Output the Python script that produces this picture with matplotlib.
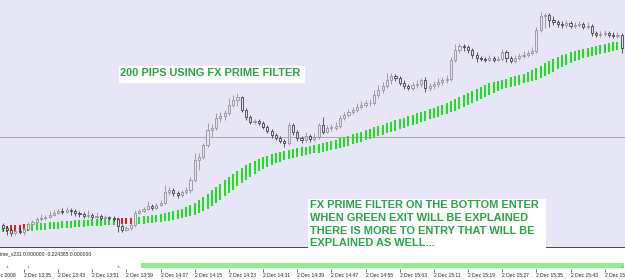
import matplotlib.pyplot as plt
from matplotlib.patches import Rectangle
import numpy as np

#---------------------------------data (1 min bars, 2 Dec 13:30 onwards)---------------------------------
first_open = 1.4625
closes = [1.4622, 1.4620, 1.4617, 1.4619, 1.4618, 1.4621, 1.4626, 1.4628, 1.4631, 1.4632,
          1.4633, 1.4635, 1.4637, 1.4639, 1.4638, 1.4640, 1.4639, 1.4637, 1.4636, 1.4634,
          1.4635, 1.4633, 1.4634, 1.4632, 1.4633, 1.4632, 1.4631, 1.4624, 1.4620, 1.4622,
          1.4625, 1.4637, 1.4639, 1.4641, 1.4644, 1.4642, 1.4645, 1.4647, 1.4658, 1.4660,
          1.4657, 1.4655, 1.4658, 1.4660, 1.4670, 1.4690, 1.4693, 1.4705, 1.4720, 1.4722,
          1.4732, 1.4734, 1.4737, 1.4745, 1.4750, 1.4753, 1.4740, 1.4733, 1.4728, 1.4729,
          1.4727, 1.4723, 1.4719, 1.4715, 1.4712, 1.4709, 1.4707, 1.4725, 1.4718, 1.4712,
          1.4710, 1.4714, 1.4711, 1.4713, 1.4725, 1.4718, 1.4722, 1.4722, 1.4724, 1.4732,
          1.4735, 1.4738, 1.4740, 1.4743, 1.4745, 1.4747, 1.4747, 1.4755, 1.4760, 1.4764,
          1.4770, 1.4774, 1.4772, 1.4767, 1.4764, 1.4762, 1.4765, 1.4766, 1.4770, 1.4762,
          1.4764, 1.4766, 1.4768, 1.4770, 1.4771, 1.4790, 1.4800, 1.4804, 1.4803, 1.4800,
          1.4795, 1.4792, 1.4791, 1.4790, 1.4792, 1.4790, 1.4791, 1.4798, 1.4792, 1.4789,
          1.4792, 1.4794, 1.4795, 1.4797, 1.4799, 1.4820, 1.4834, 1.4835, 1.4830, 1.4828,
          1.4826, 1.4825, 1.4827, 1.4824, 1.4825, 1.4826, 1.4823, 1.4824, 1.4817, 1.4815,
          1.4816, 1.4817, 1.4815, 1.4814, 1.4815, 1.4802]
highs = [1.4627, 1.4624, 1.4622, 1.4621, 1.4623, 1.4623, 1.4628, 1.4630, 1.4633, 1.4636,
         1.4635, 1.4639, 1.4640, 1.4641, 1.4642, 1.4643, 1.4642, 1.4641, 1.4639, 1.4638,
         1.4640, 1.4637, 1.4638, 1.4636, 1.4635, 1.4634, 1.4634, 1.4632, 1.4626, 1.4624,
         1.4627, 1.4640, 1.4641, 1.4643, 1.4649, 1.4646, 1.4647, 1.4650, 1.4665, 1.4663,
         1.4662, 1.4659, 1.4660, 1.4663, 1.4673, 1.4697, 1.4697, 1.4707, 1.4727, 1.4726,
         1.4737, 1.4738, 1.4740, 1.4752, 1.4755, 1.4757, 1.4754, 1.4742, 1.4735, 1.4731,
         1.4731, 1.4729, 1.4725, 1.4721, 1.4717, 1.4714, 1.4711, 1.4728, 1.4727, 1.4720,
         1.4714, 1.4718, 1.4716, 1.4717, 1.4727, 1.4733, 1.4725, 1.4726, 1.4728, 1.4735,
         1.4738, 1.4741, 1.4743, 1.4747, 1.4749, 1.4750, 1.4751, 1.4760, 1.4765, 1.4768,
         1.4777, 1.4777, 1.4776, 1.4774, 1.4770, 1.4766, 1.4768, 1.4770, 1.4772, 1.4773,
         1.4767, 1.4769, 1.4772, 1.4773, 1.4775, 1.4793, 1.4806, 1.4807, 1.4806, 1.4805,
         1.4802, 1.4798, 1.4794, 1.4793, 1.4795, 1.4794, 1.4794, 1.4801, 1.4800, 1.4794,
         1.4795, 1.4797, 1.4799, 1.4800, 1.4803, 1.4823, 1.4838, 1.4837, 1.4837, 1.4834,
         1.4830, 1.4829, 1.4830, 1.4829, 1.4828, 1.4829, 1.4828, 1.4828, 1.4826, 1.4819,
         1.4819, 1.4820, 1.4819, 1.4818, 1.4818, 1.4817]
lows = [1.4619, 1.4615, 1.4614, 1.4615, 1.4616, 1.4615, 1.4620, 1.4624, 1.4627, 1.4629,
        1.4630, 1.4632, 1.4634, 1.4636, 1.4636, 1.4637, 1.4635, 1.4634, 1.4633, 1.4632,
        1.4632, 1.4631, 1.4630, 1.4630, 1.4629, 1.4630, 1.4629, 1.4618, 1.4618, 1.4619,
        1.4620, 1.4623, 1.4636, 1.4638, 1.4640, 1.4640, 1.4641, 1.4644, 1.4646, 1.4655,
        1.4654, 1.4652, 1.4653, 1.4656, 1.4657, 1.4668, 1.4680, 1.4691, 1.4703, 1.4713,
        1.4720, 1.4728, 1.4730, 1.4735, 1.4743, 1.4744, 1.4738, 1.4730, 1.4726, 1.4726,
        1.4725, 1.4721, 1.4717, 1.4712, 1.4710, 1.4707, 1.4703, 1.4705, 1.4715, 1.4709,
        1.4707, 1.4708, 1.4708, 1.4709, 1.4711, 1.4716, 1.4717, 1.4719, 1.4720, 1.4722,
        1.4730, 1.4733, 1.4736, 1.4738, 1.4741, 1.4743, 1.4744, 1.4745, 1.4752, 1.4757,
        1.4762, 1.4766, 1.4769, 1.4765, 1.4761, 1.4760, 1.4760, 1.4762, 1.4763, 1.4758,
        1.4759, 1.4761, 1.4763, 1.4765, 1.4767, 1.4769, 1.4788, 1.4797, 1.4799, 1.4797,
        1.4792, 1.4788, 1.4789, 1.4788, 1.4789, 1.4788, 1.4789, 1.4789, 1.4788, 1.4787,
        1.4787, 1.4790, 1.4792, 1.4793, 1.4795, 1.4797, 1.4818, 1.4822, 1.4823, 1.4825,
        1.4823, 1.4822, 1.4822, 1.4822, 1.4822, 1.4823, 1.4821, 1.4821, 1.4814, 1.4813,
        1.4813, 1.4814, 1.4813, 1.4812, 1.4812, 1.4797]

# FX prime filter line drawn under price
filter_line = [1.4623, 1.4623, 1.4624, 1.4624, 1.4624, 1.4625, 1.4625, 1.4625, 1.4626, 1.4626,
               1.4626, 1.4627, 1.4627, 1.4627, 1.4628, 1.4628, 1.4628, 1.4629, 1.4629, 1.4629,
               1.4629, 1.4630, 1.4630, 1.4630, 1.4630, 1.4631, 1.4631, 1.4631, 1.4631, 1.4631,
               1.4631, 1.4632, 1.4632, 1.4633, 1.4633, 1.4634, 1.4634, 1.4635, 1.4636, 1.4637,
               1.4638, 1.4639, 1.4640, 1.4642, 1.4644, 1.4646, 1.4649, 1.4652, 1.4655, 1.4659,
               1.4662, 1.4665, 1.4669, 1.4672, 1.4675, 1.4678, 1.4681, 1.4684, 1.4686, 1.4688,
               1.4690, 1.4692, 1.4693, 1.4695, 1.4696, 1.4697, 1.4698, 1.4699, 1.4700, 1.4701,
               1.4702, 1.4702, 1.4703, 1.4704, 1.4705, 1.4706, 1.4707, 1.4708, 1.4709, 1.4711,
               1.4712, 1.4713, 1.4715, 1.4716, 1.4717, 1.4719, 1.4720, 1.4722, 1.4723, 1.4724,
               1.4726, 1.4727, 1.4729, 1.4730, 1.4731, 1.4733, 1.4734, 1.4736, 1.4737, 1.4738,
               1.4740, 1.4741, 1.4743, 1.4744, 1.4746, 1.4748, 1.4750, 1.4752, 1.4754, 1.4756,
               1.4758, 1.4760, 1.4762, 1.4764, 1.4766, 1.4767, 1.4768, 1.4769, 1.4770, 1.4772,
               1.4773, 1.4774, 1.4775, 1.4777, 1.4779, 1.4781, 1.4783, 1.4786, 1.4788, 1.4790,
               1.4792, 1.4794, 1.4795, 1.4797, 1.4798, 1.4799, 1.4800, 1.4801, 1.4802, 1.4803,
               1.4804, 1.4805, 1.4806, 1.4807, 1.4807, 1.4808]
red_bars = [1, 2, 3, 4, 5, 6, 27, 28, 29, 30]
level_line = 1.4713

# lower window (FX_Prime_v231)
sub_hist = [0.0] * 33 + [1.0] * 113
sub_marks = [1, 6, 27, 145]
sub_label = 'ime_v231 0.000000 -0.224365 0.000000'

tick_bars = [5, 13, 21, 29, 37, 45, 53, 61, 69, 77, 85, 93, 101, 109, 117, 125, 133, 141]
tick_labels = ['2 Dec 13:35', '2 Dec 13:43', '2 Dec 13:51', '2 Dec 13:59', '2 Dec 14:07',
               '2 Dec 14:15', '2 Dec 14:23', '2 Dec 14:31', '2 Dec 14:39', '2 Dec 14:47',
               '2 Dec 14:55', '2 Dec 15:03', '2 Dec 15:11', '2 Dec 15:19', '2 Dec 15:27',
               '2 Dec 15:35', '2 Dec 15:43', '2 Dec 15:51']
first_label = '2 Dec 2008'

title_text = '200 PIPS USING FX PRIME FILTER'
note_lines = ['FX PRIME FILTER ON THE BOTTOM ENTER',
              'WHEN GREEN EXIT WILL BE EXPLAINED',
              'THERE IS MORE TO ENTRY THAT WILL BE',
              'EXPLAINED AS WELL...']

#---------------------------------plot---------------------------------
W, H = 625, 279
DPI = 100
BG = '#e6e6f6'
TXT_GREEN = '#28a448'
SMALL = dict(family='Liberation Sans', fontsize=3.6, color='#222222')

fig = plt.figure(figsize=(W / DPI, H / DPI), dpi=DPI, facecolor='white')
ax = fig.add_axes([0, 31 / H, 1, 248 / H])
sub = fig.add_axes([0, 10 / H, 1, 21 / H])

n = len(closes)
x = np.arange(n)
opens = np.array([first_open] + closes[:-1])
closes_a = np.array(closes)
xlim = (-0.61, 145.76)

# main window
ax.set_facecolor(BG)
ax.set_xlim(xlim)
ax.set_ylim(1.4602, 1.4850)
ax.set_xticks([])
ax.set_yticks([])
for s in ['top', 'left', 'right']:
    ax.spines[s].set_visible(False)
ax.spines['bottom'].set_color('#3a3a3a')
ax.spines['bottom'].set_linewidth(1.3)

ax.axhline(level_line, color='#a8a8a8', lw=0.7, zorder=1)

# filter columns
fl = np.array(filter_line)
lag = np.concatenate([[fl[0]] * 3, fl[:-3]])
cols = ['#dd2222' if i in red_bars else '#22dd22' for i in range(n)]
ax.vlines(x, lag - 0.0005, fl + 0.0001, colors=cols, lw=1.45, zorder=2)

# candles
up = closes_a >= opens
edge = np.where(up, '#8a8a8a', '#303030')
ax.vlines(x, lows, highs, colors=edge, lw=0.55, zorder=3)
body_lo = np.minimum(opens, closes_a)
body_h = np.maximum(np.abs(closes_a - opens), 0.00005)
ax.bar(x, body_h, bottom=body_lo, width=0.5, facecolor=BG, edgecolor=edge, lw=0.55, zorder=4)

# lower window
sub.set_facecolor('white')
sub.set_xlim(xlim)
sub.set_ylim(-0.2, 4.0)
for s in sub.spines.values():
    s.set_visible(False)
sub.set_yticks([])
sub.bar(x, sub_hist, width=1.0, color='#90ee90', lw=0)
sub.scatter(sub_marks, [0.4] * len(sub_marks), marker='^', s=2.5, color='#8a8a8a', lw=0, zorder=3)
sub.text(0.0, 0.7, sub_label, transform=sub.transAxes, ha='left', va='center', **SMALL)
sub.set_xticks(tick_bars)
sub.set_xticklabels(tick_labels, ha='left', **SMALL)
sub.tick_params(axis='x', direction='out', length=2, width=0.5, pad=0.6, color='#333333')
sub.text(-2.9, -0.2, first_label, ha='left', va='top', clip_on=False,
         transform=sub.get_xaxis_transform(), **SMALL)

# text boxes
def fx(px):
    return px / W

def fy(py):
    return 1 - py / H

fig.patches.append(Rectangle((fx(118.5), fy(83)), fx(305) - fx(118.5), fy(66.5) - fy(83),
                             transform=fig.transFigure, facecolor='white', edgecolor='none', zorder=5))
fig.text(fx(119.5), fy(73.3), title_text, ha='left', va='center', family='Liberation Sans',
         fontweight='bold', fontsize=7.9, color=TXT_GREEN, zorder=6)

fig.patches.append(Rectangle((fx(308), fy(249.5)), fx(546) - fx(308), fy(199) - fy(249.5),
                             transform=fig.transFigure, facecolor='white', edgecolor='none', zorder=5))
for k, line in enumerate(note_lines):
    fig.text(fx(309.5), fy(205 + 12.8 * k), line, ha='left', va='center', family='Liberation Sans',
             fontweight='bold', fontsize=7.9, color=TXT_GREEN, zorder=6)

plt.savefig('out.png', dpi=DPI, facecolor='white')
